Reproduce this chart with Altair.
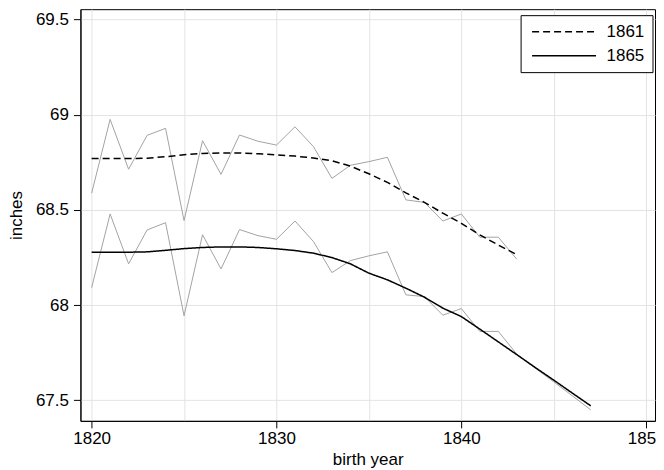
import altair as alt
import pandas as pd

years_1861 = list(range(1820, 1844))
years_1865 = list(range(1820, 1848))

raw_1861 = [68.588, 68.976, 68.714, 68.892, 68.929, 68.444, 68.864, 68.687, 68.894, 68.861,
            68.841, 68.937, 68.833, 68.666, 68.735, 68.754, 68.777, 68.553, 68.540, 68.442,
            68.479, 68.357, 68.357, 68.241]
smooth_1861 = [68.771, 68.771, 68.770, 68.772, 68.780, 68.790, 68.797, 68.800, 68.800, 68.795,
               68.790, 68.783, 68.773, 68.759, 68.730, 68.690, 68.645, 68.590, 68.540, 68.483,
               68.430, 68.369, 68.316, 68.265]

raw_1865 = [68.092, 68.479, 68.217, 68.395, 68.433, 67.944, 68.370, 68.190, 68.397, 68.365,
            68.346, 68.442, 68.334, 68.171, 68.234, 68.259, 68.280, 68.054, 68.045, 67.947,
            67.982, 67.862, 67.862, 67.742, 67.669, 67.597, 67.524, 67.450]
smooth_1865 = [68.278, 68.278, 68.278, 68.280, 68.288, 68.297, 68.303, 68.306, 68.306, 68.303,
               68.296, 68.287, 68.273, 68.250, 68.217, 68.168, 68.133, 68.089, 68.042, 67.984,
               67.940, 67.874, 67.807, 67.740, 67.672, 67.606, 67.538, 67.471]

series_names = ["1861", "1865"]
x_ticks = [1820, 1825, 1830, 1835, 1840, 1845, 1850]
y_ticks = [67.5, 68, 68.5, 69, 69.5]

rows = []
for name, yrs, raw, sm in [("1861", years_1861, raw_1861, smooth_1861),
                           ("1865", years_1865, raw_1865, smooth_1865)]:
    for y, r, s in zip(yrs, raw, sm):
        rows.append({"year": y, "series": name, "raw": r, "smooth": s})
df = pd.DataFrame(rows)

FONT = "Liberation Sans"

x_enc = alt.X("year:Q",
              scale=alt.Scale(domain=[1819.395, 1850.476], nice=False, zero=False),
              axis=alt.Axis(values=x_ticks, title="birth year", grid=True,
                            labelExpr="datum.value % 10 === 0 ? datum.label : ''",
                            tickOpacity={"condition": {"test": "datum.value % 10 === 0", "value": 1}, "value": 0},
                            format="d"))
y_scale = alt.Scale(domain=[67.392, 69.555], nice=False, zero=False)

raw_layer = alt.Chart(df).mark_line(color="#a3a3a3", strokeWidth=1).encode(
    x=x_enc,
    y=alt.Y("raw:Q", scale=y_scale,
            axis=alt.Axis(values=y_ticks, title="inches", format="~g", grid=True)),
    detail="series:N",
)

smooth_layer = alt.Chart(df).mark_line(color="black", strokeWidth=1.5).encode(
    x=x_enc,
    y=alt.Y("smooth:Q", scale=y_scale),
    strokeDash=alt.StrokeDash("series:N",
                              scale=alt.Scale(domain=series_names, range=[[7, 4], [1, 0]]),
                              legend=alt.Legend(title=None, orient="none", legendX=440.5, legendY=6,
                                                strokeColor="black", fillColor="white",
                                                padding=8, symbolSize=64, symbolStrokeWidth=1.5,
                                                symbolStrokeColor="black", symbolType="M-1.25,0H14.75",
                                                labelFontSize=17, labelFont=FONT, labelColor="black",
                                                labelOffset=61, rowPadding=6)),
)

chart = alt.layer(raw_layer, smooth_layer).properties(
    width=575, height=412,
    autosize=alt.AutoSizeParams(type="none"),
    padding={"left": 72.5, "top": 1, "right": 1, "bottom": 47},
).configure_view(
    stroke="black", strokeWidth=1
).configure_axis(
    labelFont=FONT, titleFont=FONT, labelFontSize=17, titleFontSize=17,
    labelColor="black", titleColor="black", titleFontWeight="normal",
    domainColor="black", tickColor="black", tickSize=7, tickWidth=1,
    gridColor="#e3e3e3", gridWidth=1,
).configure_axisY(
    labelPadding=5, titlePadding=10
).configure_axisX(
    labelPadding=3, titlePadding=5
)

chart.save("out.html", embed_options={"renderer": "svg", "actions": False})
